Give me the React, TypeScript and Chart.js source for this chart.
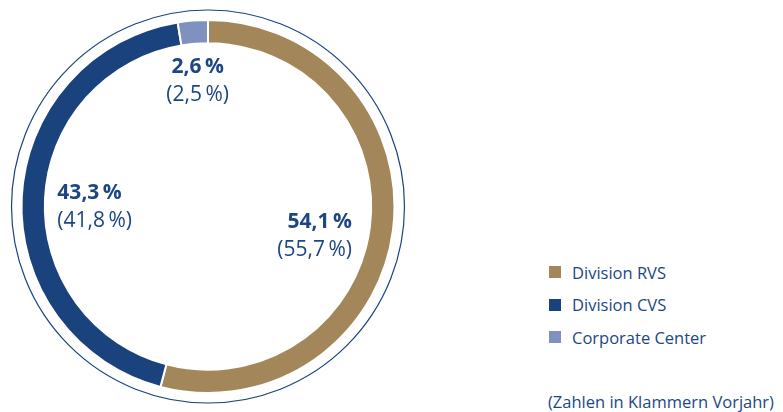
import React, { useEffect, useRef } from "react";
import { Chart, registerables } from "chart.js";

Chart.register(...registerables);

const categories = ["Division RVS", "Division CVS", "Corporate Center"];
const currentShares = [54.1, 43.3, 2.6];
const previousShares = [55.7, 41.8, 2.5];
const colors = ["#A3875A", "#1A437D", "#7E91BF"];
const footnote = "(Zahlen in Klammern Vorjahr)";

const TEXT = "#1D4784";
const FONT = "'Open Sans', 'Noto Sans', sans-serif";

// label placement style: radius factor, horizontal alignment, vertical nudge
const labelStyle = [
  { r: 0.6, align: "right", anchorDx: 33, dy: 15 },
  { r: 0.61, align: "left", anchorDx: -37, dy: 6 },
  { r: 0.68, align: "center", anchorDx: 0, dy: 1 },
];

const fmt = (v: number) => v.toFixed(1).replace(".", ",") + "\u2009%";

const labelPlugin = {
  id: "ringLabels",
  beforeDatasetsDraw(chart: any) {
    const meta = chart.getDatasetMeta(0);
    const arc = meta.data[0];
    if (!arc) return;
    const ctx = chart.ctx;
    ctx.save();
    ctx.beginPath();
    ctx.arc(arc.x, arc.y, arc.outerRadius + 10, 0, Math.PI * 2);
    ctx.strokeStyle = "#1A437D";
    ctx.lineWidth = 1.2;
    ctx.stroke();
    ctx.restore();
  },
  afterDatasetsDraw(chart: any) {
    const meta = chart.getDatasetMeta(0);
    const ctx = chart.ctx;
    ctx.save();
    meta.data.forEach((a: any, i: number) => {
      const mid = (a.startAngle + a.endAngle) / 2;
      const st = labelStyle[i];
      const r = a.outerRadius * st.r;
      const x = a.x + Math.cos(mid) * r + st.anchorDx;
      const y = a.y + Math.sin(mid) * r + st.dy;
      ctx.textAlign = st.align;
      ctx.textBaseline = "middle";
      ctx.fillStyle = TEXT;
      ctx.font = `bold 21px ${FONT}`;
      ctx.fillText(fmt(currentShares[i]), x, y - 14);
      ctx.font = `21px ${FONT}`;
      ctx.fillText("(" + fmt(previousShares[i]) + ")", x, y + 14);
    });
    ctx.restore();
  },
};

export default function App() {
  const ref = useRef<HTMLCanvasElement>(null);
  useEffect(() => {
    document.body.style.margin = "0";
    const chart = new Chart(ref.current!, {
      type: "doughnut",
      data: {
        labels: categories,
        datasets: [
          {
            data: currentShares,
            backgroundColor: colors,
            borderColor: "#ffffff",
            borderWidth: 2,
          },
        ],
      },
      options: {
        animation: false,
        responsive: true,
        maintainAspectRatio: false,
        cutout: "87.5%",
        layout: { padding: 19 },
        plugins: { legend: { display: false }, tooltip: { enabled: false } },
      },
      plugins: [labelPlugin],
    });
    return () => chart.destroy();
  }, []);

  return (
    <div style={{ position: "relative", width: 783, height: 412, fontFamily: FONT, color: TEXT, background: "#fff" }}>
      <div style={{ position: "absolute", left: 0, top: 0, width: 416, height: 413 }}>
        <canvas ref={ref} />
      </div>
      {categories.map((c, i) => (
        <div
          key={c}
          style={{
            position: "absolute",
            left: 549,
            top: 262 + i * 32.5,
            height: 20,
            display: "flex",
            alignItems: "center",
            fontSize: 16.5,
            whiteSpace: "nowrap",
          }}
        >
          <span style={{ display: "inline-block", width: 12, height: 12, background: colors[i], marginRight: 11 }} />
          {c}
        </div>
      ))}
      <div style={{ position: "absolute", left: 548, top: 392, height: 20, lineHeight: "20px", fontSize: 16.5, whiteSpace: "nowrap" }}>
        {footnote}
      </div>
    </div>
  );
}
